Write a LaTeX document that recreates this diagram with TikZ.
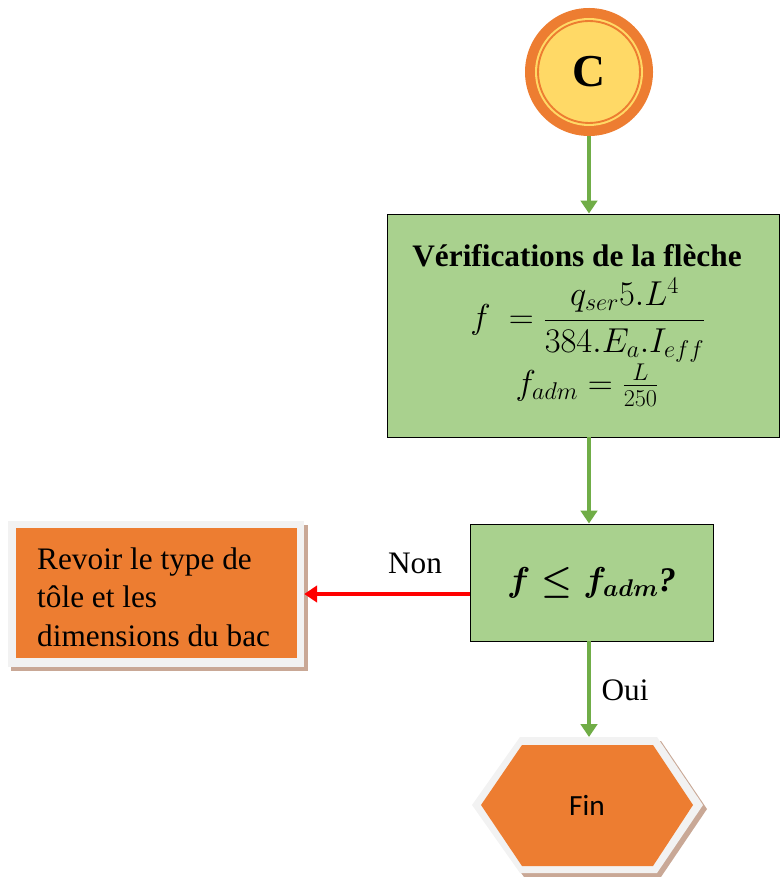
\RequirePackage{fix-cm}
\documentclass[tikz,border=0pt]{standalone}
\usepackage{amsmath}
\usepackage{fontspec}
\setmainfont{Liberation Serif}
\newfontfamily\finfont{Carlito}
\usetikzlibrary{arrows.meta}
\definecolor{orangeC}{HTML}{ED7D31}
\definecolor{yellowC}{HTML}{FFD966}
\definecolor{greenC}{HTML}{A9D18E}
\definecolor{arrowC}{HTML}{70AD47}
\definecolor{frameC}{HTML}{F2F2F2}
\definecolor{shadowC}{HTML}{C9A896}

\begin{document}
\begin{tikzpicture}[x=0.03cm,y=-0.03cm,
    greenbox/.style={draw=black,fill=greenC,line width=0.8pt,inner sep=0pt},
    flow/.style={draw=arrowC,line width=3.2pt,-{Triangle[length=11pt,width=14pt]}},
    txt/.style={font=\fontsize{26.7}{33}\selectfont},
    mathtxt/.style={font=\fontsize{29.5}{34}\selectfont,inner sep=0pt}]
\useasboundingbox (0,0) rectangle (780,877);

% connector C
\node[circle,fill=orangeC,minimum size=3.84cm] (c) at (589,72) {};
\node[circle,fill=yellowC,minimum size=3.24cm] (cring) at (c) {};
\node[circle,draw=orangeC,line width=1.6pt,fill=yellowC,minimum size=3.06cm,
      font=\fontsize{39}{40}\bfseries\selectfont] (cin) at (c) {C};

% verification
\node[greenbox,minimum width=11.76cm,minimum height=6.69cm] (verif) at (583.5,325.5) {};
\node[txt] (verift) at (577,256) {\textbf{Vérifications de la flèche}};
\node[mathtxt] (fleche) at (588,320) {$f\ =\dfrac{q_{ser}5.L^4}{384.E_a.I_{eff}}$};
\node[mathtxt] (fadm) at (587,385) {$f_{adm}=\frac{L}{250}$};

% test
\node[greenbox,minimum width=7.29cm,minimum height=3.51cm,mathtxt] (test) at (591.5,582.5)
  {$\boldsymbol{f\leq f_{adm}}$\textbf{\textit{?}}};

% revoir
\fill[shadowC] (11,525) rectangle (308,671);
\node[fill=frameC,minimum width=8.88cm,minimum height=4.38cm] (revoir) at (156,594) {};
\node[fill=orangeC,minimum width=8.43cm,minimum height=3.9cm] (revoirin) at (156.5,593) {};
\node[txt,anchor=west,align=left,inner sep=0pt] (revoirt) at (37,597)
  {Revoir le type de\\tôle et les\\dimensions du bac};

% fin
\fill[shadowC] (524,741) -- (661,741) -- (707,809) -- (661,877) -- (524,877) -- (476,809) -- cycle;
\fill[frameC] (520,737) -- (657,737) -- (703,805) -- (657,873) -- (520,873) -- (472,805) -- cycle;
\fill[orangeC] (522,745) -- (653,745) -- (693,805) -- (653,866) -- (522,866) -- (481,805) -- cycle;
\node[font=\finfont\fontsize{25}{28}\selectfont] (fin) at (587,805) {Fin};
\coordinate (fintop) at (589,737);

% arrows
\draw[flow] (c.south) -- (verif.north -| c.south);
\draw[flow] (verif.south -| c.south) -- (test.north -| c.south);
\draw[flow] (test.south -| c.south) -- (fintop);
\draw[red,line width=3.2pt,-{Triangle[length=11pt,width=14pt]}] (test.west |- revoir.east) -- (revoir.east);
\node[txt] (non) at (415,563) {Non};
\node[txt] (oui) at (625,690) {Oui};
\end{tikzpicture}
\end{document}
